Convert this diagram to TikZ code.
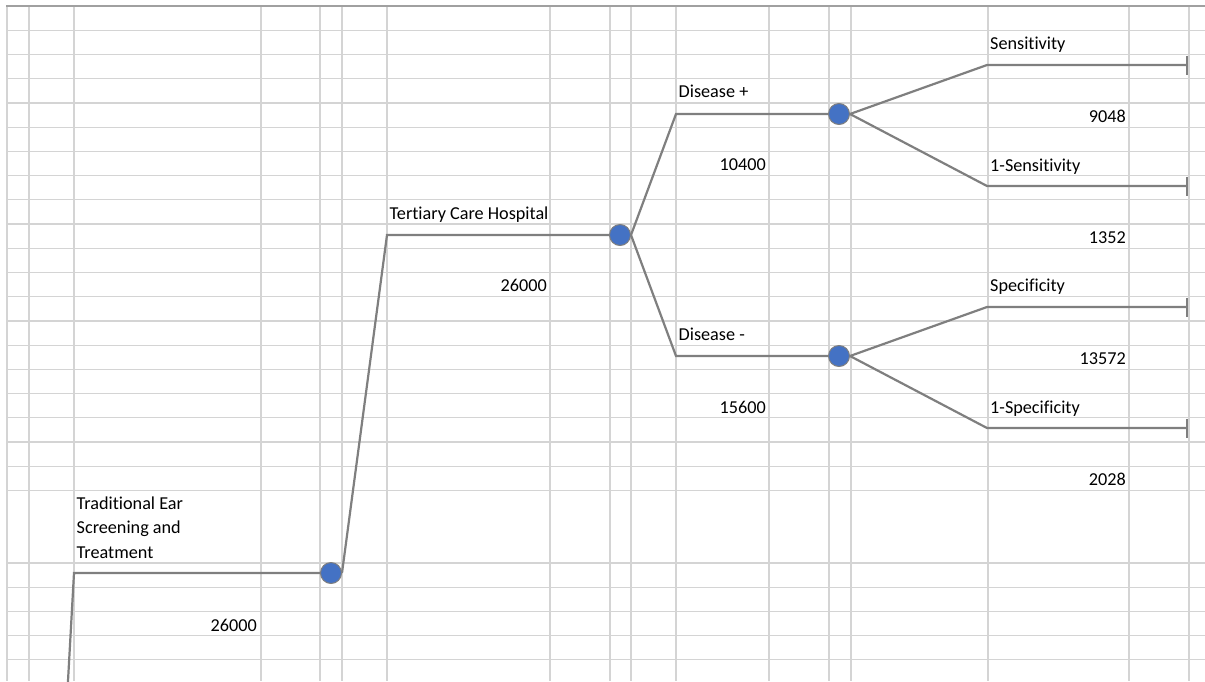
\documentclass[tikz,border=0pt]{standalone}
\usepackage{fontspec}
\setmainfont{Carlito}[Ligatures=NoCommon]
\definecolor{gridgray}{HTML}{D4D4D4}
\definecolor{edgegray}{HTML}{7F7F7F}
\definecolor{framegray}{HTML}{A0A0A0}
\definecolor{chanceblue}{HTML}{4472C4}
\newcommand\cellfont{\fontsize{18.2}{24.6}\selectfont}
\pgfdeclarelayer{back}
\pgfsetlayers{back,main}
\begin{document}
\begin{tikzpicture}[x=1pt,y=-1pt,
  gridline/.style={draw=gridgray, line width=1.2pt},
  frameline/.style={draw=framegray, line width=2pt},
  branch/.style={draw=edgegray, line width=2.2pt},
  endtick/.style={draw=edgegray, line width=2.7pt},
  chance/.style={circle, fill=chanceblue, draw=edgegray, line width=1pt,
                 minimum size=21pt, inner sep=0pt},
  lbl/.style={anchor=base west, inner sep=0pt, font=\cellfont},
  num/.style={anchor=base east, inner sep=0pt, font=\cellfont}]
\useasboundingbox (0,0) rectangle (1205,681);
\clip (0,0) rectangle (1205,681);

% chance nodes
\node[chance] (c1) at (331,573) {};
\node[chance] (c2) at (620,235) {};
\node[chance] (c3) at (839,114) {};
\node[chance] (c4) at (839,356) {};

% elbows and terminal ends of the branches
\coordinate (r0) at (67.5,690);
\coordinate (r1) at (74,573);
\coordinate (h1) at (387,235);
\coordinate (dp) at (676,114);
\coordinate (dm) at (676,356);
\coordinate (sp) at (987,65);
\coordinate (sn) at (987,186);
\coordinate (fp) at (987,307);
\coordinate (fn) at (987,428);
\coordinate (tsp) at (1187,65);
\coordinate (tsn) at (1187,186);
\coordinate (tfp) at (1187,307);
\coordinate (tfn) at (1187,428);

% branch labels and counts
\node[lbl] (lsens) at (990,49.5) {Sensitivity};
\node[num] (nsens) at (1126,122.7) {9048};
\node[lbl] (lnsens) at (990,171) {1-Sensitivity};
\node[num] (nnsens) at (1126,243.3) {1352};
\node[lbl] (lspec) at (990,291.7) {Specificity};
\node[num] (nspec) at (1126,364) {13572};
\node[lbl] (lnspec) at (990,413.3) {1-Specificity};
\node[num] (nnspec) at (1126,485.7) {2028};
\node[lbl] (ldp) at (678.5,97) {Disease +};
\node[num] (ndp) at (766,170.3) {10400};
\node[lbl] (ltch) at (389.5,219) {Tertiary Care Hospital};
\node[num] (ntch) at (547,291.7) {26000};
\node[lbl] (ldm) at (678.5,340) {Disease -};
\node[num] (ndm) at (766,413.3) {15600};
% the base anchor of a wrapped cell sits on its last line
\node[lbl, align=left] (ltrad) at (76.5,558.3) {Traditional Ear\\Screening and\\Treatment};
\node[num] (ntrad) at (257,631.7) {26000};

\begin{pgfonlayer}{back}
  % sheet grid
  \foreach \y in {30.2,54.4,78.7,102.9,127.1,151.3,175.5,199.8,224,248.2,
                  272.4,296.6,320.9,345.1,369.3,393.5,417.7,442,466.2,490.4,
                  563,587.2,611.4,635.6,659.8}
    \draw[gridline] (7,\y) -- (1205,\y);
  \foreach \x in {7,29,74,261,320,342,387,550,610,631,676,769,829,851,988,1129,1189}
    \draw[gridline] (\x,6) -- (\x,681);
  \draw[frameline] (6,6) -- (1205,6);

  % tree branches
  \draw[branch] (r0) -- (r1) -- (c1.west);
  \draw[branch] (c1.east) -- (h1) -- (c2.west);
  \draw[branch] (c2.east) -- (dp) -- (c3.west);
  \draw[branch] (c2.east) -- (dm) -- (c4.west);
  \draw[branch] (c3.east) -- (sp) -- (tsp);
  \draw[branch] (c3.east) -- (sn) -- (tsn);
  \draw[branch] (c4.east) -- (fp) -- (tfp);
  \draw[branch] (c4.east) -- (fn) -- (tfn);

  % terminal bars
  \foreach \t in {tsp,tsn,tfp,tfn}
    \draw[endtick] ([yshift=9.5pt]\t) -- ([yshift=-9.5pt]\t);
\end{pgfonlayer}
\end{tikzpicture}
\end{document}
